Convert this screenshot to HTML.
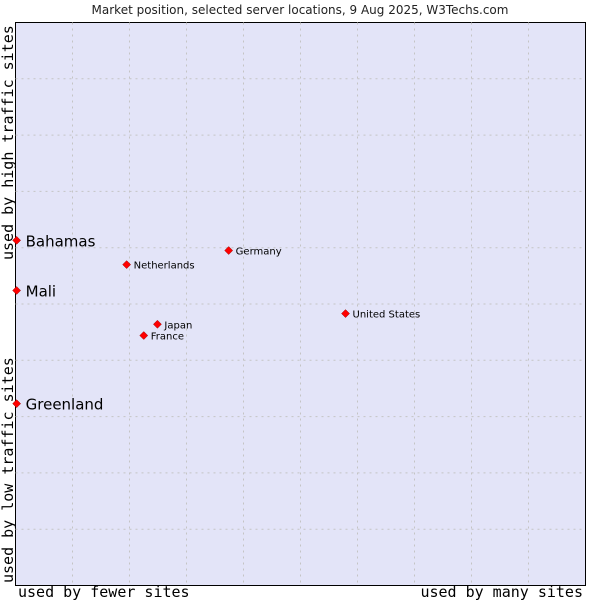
<!DOCTYPE html>
<html><head><meta charset="utf-8"><style>
body{margin:0;background:#fff;width:600px;height:600px;overflow:hidden}
svg text{font-family:"DejaVu Sans","Liberation Sans",sans-serif}
.ax{font-family:"DejaVu Sans Mono","Liberation Mono",monospace !important;font-size:15px}
</style></head><body>
<svg id="chart" width="600" height="600">
<text x="300" y="14" text-anchor="middle" font-size="12" fill="#222">Market position, selected server locations, 9 Aug 2025, W3Techs.com</text>
<rect x="15.5" y="22.5" width="570" height="563" fill="#e3e4f8" stroke="#000"/>
<g id="grid"></g>
<g id="pts"></g>
<text class="ax" x="18" y="597" fill="#000">used by fewer sites</text>
<text class="ax" x="583" y="597" text-anchor="end" fill="#000">used by many sites</text>
<text class="ax" transform="translate(13,583) rotate(-90)" fill="#000">used by low traffic sites</text>
<text class="ax" transform="translate(13,260) rotate(-90)" fill="#000">used by high traffic sites</text>
</svg>
<script>
const names=["Bahamas","Mali","Greenland","Netherlands","Germany","Japan","France","United States"];
const xs=[0.2,0.2,0.2,19.5,37.4,24.9,22.5,57.9];
const ys=[61.3,52.4,32.3,57.0,59.5,46.4,44.4,48.3];
const big=[true,true,true,false,false,false,false,false];
const L=15.5,R=585.5,T=22.5,B=585.5;
const sx=v=>L+v/100*(R-L), sy=v=>B-v/100*(B-T);
const NS="http://www.w3.org/2000/svg";
const g=document.getElementById('grid');
for(let i=1;i<10;i++){
 const a=document.createElementNS(NS,'line');
 
 
 a.setAttribute('x1',sx(i*10));a.setAttribute('x2',sx(i*10));a.setAttribute('y1',T);a.setAttribute('y2',B);
 a.setAttribute('stroke','#c4c4c4');a.setAttribute('stroke-dasharray','2,4');g.appendChild(a);
 const b=document.createElementNS(NS,'line');
 
 
 b.setAttribute('y1',sy(i*10));b.setAttribute('y2',sy(i*10));b.setAttribute('x1',L);b.setAttribute('x2',R);
 b.setAttribute('stroke','#c4c4c4');b.setAttribute('stroke-dasharray','2,4');g.appendChild(b);
}
const p=document.getElementById('pts');
names.forEach((n,i)=>{
 const x=sx(xs[i]),y=sy(ys[i]);
 const d=document.createElementNS(NS,'polygon');
 
 
 d.setAttribute('points',`${x},${y-4} ${x+4},${y} ${x},${y+4} ${x-4},${y}`);
 d.setAttribute('fill','#f00');d.setAttribute('stroke','#900');d.setAttribute('stroke-width','0.5');p.appendChild(d);
 const t=document.createElementNS(NS,'text');
 
 
 t.setAttribute('x',x+(big[i]?9:7));t.setAttribute('y',y+(big[i]?6:4));
 t.setAttribute('font-size',big[i]?'15':'10');t.setAttribute('fill','#000');
 t.textContent=n;p.appendChild(t);
});
</script>
</body></html>
